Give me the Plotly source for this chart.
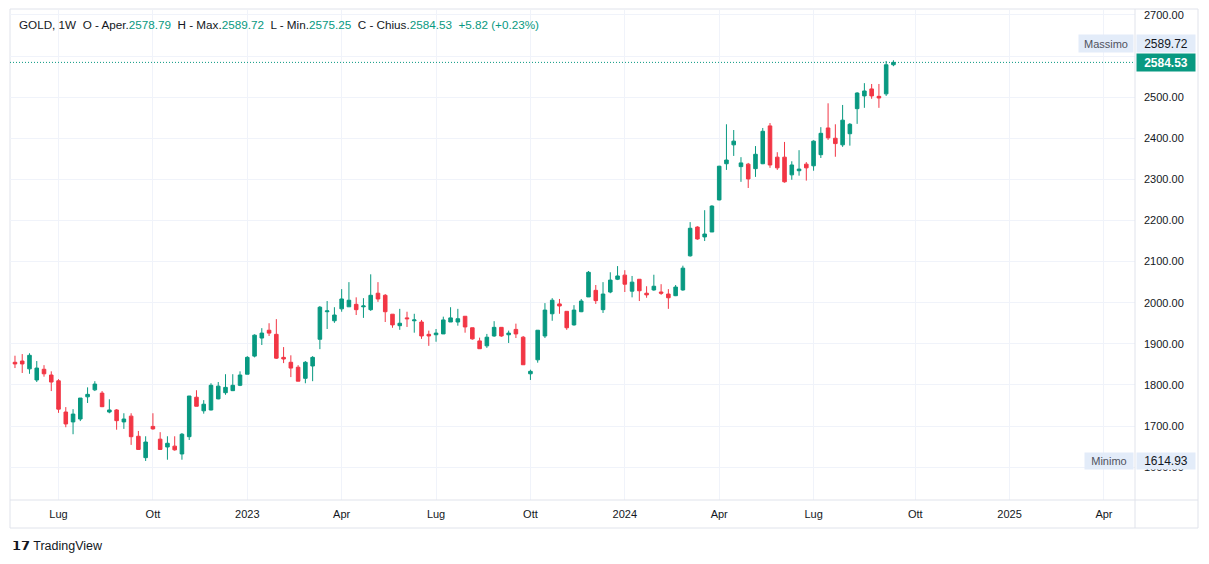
import pandas as pd
import plotly.graph_objects as go

# weekly bars, GOLD 1W (first bar is mostly cut off on the left)
weeks = pd.date_range("2022-05-16", periods=123, freq="W-MON")

opens = [1824, 1855, 1858, 1839, 1812, 1838, 1824, 1810, 1734, 1710, 1717, 1771, 1788, 1780, 1734, 1739,
         1710, 1724, 1675, 1623, 1699, 1668, 1649, 1651, 1632, 1674, 1770, 1737, 1739, 1766, 1781, 1786,
         1799, 1826, 1870, 1914, 1933, 1923, 1867, 1855, 1843, 1816, 1846, 1911, 1978, 1956, 1985, 1990,
         1996, 1990, 1983, 2023, 2018, 1972, 1944, 1963, 1956, 1953, 1923, 1922, 1924, 1953, 1953, 1967,
         1939, 1907, 1895, 1919, 1940, 1922, 1935, 1916, 1827, 1861, 1919, 1973, 1997, 1979, 1946, 1978,
         2014, 2030, 1983, 2026, 2057, 2067, 2028, 2057, 2023, 2031, 2026, 2021, 2017, 2031, 2114, 2184,
         2160, 2172, 2250, 2338, 2384, 2331, 2337, 2326, 2338, 2430, 2354, 2354, 2311, 2321, 2337, 2333,
         2360, 2425, 2400, 2384, 2411, 2472, 2503, 2520, 2502, 2508, 2578.79]
highs = [1850, 1871, 1875, 1877, 1858, 1848, 1833, 1814, 1746, 1741, 1768, 1794, 1809, 1785, 1765, 1741,
         1731, 1731, 1688, 1675, 1731, 1685, 1675, 1675, 1683, 1773, 1787, 1763, 1804, 1807, 1826, 1826,
         1833, 1870, 1923, 1938, 1950, 1960, 1892, 1872, 1848, 1858, 1870, 1992, 2004, 1989, 2033, 2050,
         2013, 2011, 2069, 2050, 2021, 1972, 1985, 1978, 1973, 1958, 1932, 1936, 1966, 1989, 1985, 1967,
         1939, 1915, 1924, 1955, 1940, 1932, 1949, 1919, 1837, 1933, 1999, 2011, 2009, 1979, 1994, 2009,
         2077, 2043, 2050, 2074, 2089, 2079, 2065, 2057, 2040, 2068, 2045, 2033, 2043, 2090, 2196, 2186,
         2225, 2237, 2333, 2434, 2420, 2354, 2340, 2381, 2425, 2437, 2366, 2391, 2344, 2371, 2342, 2395,
         2427, 2485, 2434, 2481, 2437, 2512, 2534, 2532, 2532, 2588, 2589.72]
lows = [1822, 1841, 1829, 1827, 1807, 1820, 1785, 1732, 1697, 1680, 1712, 1756, 1785, 1746, 1731, 1691,
        1693, 1654, 1642, 1614.93, 1691, 1642, 1618, 1640, 1618, 1666, 1748, 1730, 1738, 1765, 1776, 1785,
        1797, 1826, 1867, 1897, 1919, 1863, 1853, 1819, 1809, 1804, 1809, 1887, 1936, 1951, 1978, 1990,
        1970, 1963, 1980, 2002, 1953, 1939, 1934, 1941, 1927, 1912, 1895, 1905, 1924, 1953, 1944, 1927,
        1910, 1888, 1890, 1917, 1917, 1902, 1914, 1849, 1812, 1854, 1914, 1956, 1973, 1934, 1944, 1977,
        2014, 1997, 1975, 2023, 2055, 2026, 2013, 2004, 2012, 2029, 2019, 1985, 2016, 2029, 2112, 2153,
        2150, 2172, 2249, 2323, 2357, 2294, 2279, 2306, 2337, 2328, 2323, 2292, 2299, 2309, 2297, 2321,
        2352, 2396, 2355, 2379, 2382, 2435, 2474, 2496, 2474, 2503, 2575.25]
closes = [1848, 1851, 1851, 1872, 1841, 1827, 1807, 1741, 1705, 1729, 1768, 1777, 1802, 1747, 1739, 1713,
          1717, 1674, 1643, 1661, 1693, 1643, 1658, 1642, 1680, 1773, 1748, 1753, 1799, 1797, 1794, 1799,
          1824, 1867, 1921, 1926, 1926, 1865, 1863, 1841, 1809, 1855, 1867, 1989, 1980, 1970, 2009, 2006,
          1983, 1992, 2018, 2009, 1978, 1946, 1950, 1961, 1958, 1919, 1919, 1926, 1958, 1963, 1961, 1941,
          1912, 1888, 1916, 1940, 1919, 1926, 1924, 1849, 1833, 1933, 1982, 2006, 1992, 1939, 1982, 2004,
          2074, 2005, 2021, 2055, 2065, 2045, 2050, 2029, 2019, 2040, 2023, 2012, 2038, 2084, 2181, 2155,
          2167, 2235, 2332, 2347, 2393, 2340, 2301, 2361, 2417, 2335, 2328, 2294, 2335, 2325, 2328, 2393,
          2412, 2401, 2387, 2444, 2434, 2510, 2515, 2503, 2498, 2578.71, 2584.53]

tick_dates = ["2022-07-04", "2022-10-03", "2023-01-02", "2023-04-03", "2023-07-03", "2023-10-02",
              "2024-01-01", "2024-04-01", "2024-07-01", "2024-10-07", "2025-01-06", "2025-04-07"]
tick_labels = ["Lug", "Ott", "2023", "Apr", "Lug", "Ott", "2024", "Apr", "Lug", "Ott", "2025", "Apr"]
price_ticks = list(range(1600, 2701, 100))

UP = "#089981"
DOWN = "#f23645"
GRID = "#f0f3fa"
BORDER = "#e0e3eb"
TXT = "#131722"
FONT = "Liberation Sans"

last_close = closes[-1]
chg = closes[-1] - closes[-2]
hi = max(highs)
lo = min(lows)

fig = go.Figure(go.Candlestick(
    x=weeks, open=opens, high=highs, low=lows, close=closes,
    increasing=dict(line=dict(color=UP, width=1), fillcolor=UP),
    decreasing=dict(line=dict(color=DOWN, width=1), fillcolor=DOWN),
    whiskerwidth=0, hoverinfo="skip",
))

# plot area in page px: x 10..1135, y 10..500 (page body adds 8px offset)
def px(x):
    return (x - 10) / 1125

def py(y):
    return (500 - y) / 490

shapes = [
    dict(type="rect", xref="paper", yref="paper", x0=px(10), x1=px(1198), y0=py(528), y1=py(9),
         line=dict(color=BORDER, width=1), layer="below"),
    dict(type="line", xref="paper", yref="paper", x0=0, x1=px(1198), y0=0, y1=0,
         line=dict(color=BORDER, width=1)),
    dict(type="line", xref="paper", yref="paper", x0=1, x1=1, y0=py(528), y1=py(9),
         line=dict(color=BORDER, width=1)),
    dict(type="line", xref="paper", yref="y", x0=0, x1=1, y0=last_close, y1=last_close,
         line=dict(color=UP, width=1, dash="1px,2px")),
]

header = (f"<span style='color:{TXT}'>GOLD, 1W  O - Aper.</span><span style='color:{UP}'>{opens[-1]:.2f}</span>"
          f"<span style='color:{TXT}'>  H - Max.</span><span style='color:{UP}'>{highs[-1]:.2f}</span>"
          f"<span style='color:{TXT}'>  L - Min.</span><span style='color:{UP}'>{lows[-1]:.2f}</span>"
          f"<span style='color:{TXT}'>  C - Chius.</span><span style='color:{UP}'>{closes[-1]:.2f}</span>"
          f"<span style='color:{UP}'>  +{chg:.2f} (+{chg / closes[-2] * 100:.2f}%)</span>")

LBL_BG = "#e3ecf9"
annotations = [
    dict(text=header, xref="paper", yref="paper", x=px(17), y=py(24), xanchor="left", yanchor="middle",
         showarrow=False, font=dict(size=11.7, family=FONT, color=TXT)),
    dict(text="Massimo", xref="paper", yref="y", x=px(1134), y=hi, yshift=17, xanchor="right",
         yanchor="middle", showarrow=False, bgcolor=LBL_BG, borderpad=2, width=50, height=13,
         font=dict(size=11, family=FONT, color="#50535e")),
    dict(text=f"{hi:.2f}", xref="paper", yref="y", x=px(1136), y=hi, yshift=17, xanchor="left",
         yanchor="middle", showarrow=False, bgcolor=LBL_BG, borderpad=2, width=54, height=13,
         font=dict(size=12, family=FONT, color=TXT)),
    dict(text=f"<b>{last_close:.2f}</b>", xref="paper", yref="y", x=px(1136), y=last_close,
         xanchor="left", yanchor="middle", showarrow=False, bgcolor=UP, borderpad=2, width=54,
         height=13, font=dict(size=12, family=FONT, color="white")),
    dict(text="Minimo", xref="paper", yref="y", x=px(1134), y=lo, xanchor="right", yanchor="middle",
         showarrow=False, bgcolor=LBL_BG, borderpad=2, width=44, height=12,
         font=dict(size=11, family=FONT, color="#50535e")),
    dict(text=f"{lo:.2f}", xref="paper", yref="y", x=px(1136), y=lo, xanchor="left", yanchor="middle",
         showarrow=False, bgcolor=LBL_BG, borderpad=2, width=54, height=12,
         font=dict(size=12, family=FONT, color=TXT)),
    dict(text="<b>𝟭𝟳</b> TradingView", xref="paper", yref="paper", x=px(10), y=py(546),
         xanchor="left", yanchor="middle", showarrow=False,
         font=dict(size=12.5, family=FONT, color=TXT)),
]

# the 2600 label sits hidden behind the price labels in the original
price_text = ["" if v == 2600 else f"{v:.2f}" for v in price_ticks]

fig.update_layout(
    width=1201, height=556,
    margin=dict(l=2, r=74, t=2, b=64),
    paper_bgcolor="white", plot_bgcolor="white",
    showlegend=False,
    shapes=shapes, annotations=annotations,
    font=dict(family=FONT, size=11, color=TXT),
    xaxis=dict(
        type="date", range=["2022-05-18 05:00", "2025-05-06 22:00"],
        rangeslider=dict(visible=False),
        tickmode="array", tickvals=tick_dates, ticktext=tick_labels,
        showgrid=True, gridcolor=GRID, gridwidth=1, zeroline=False, showline=False,
        ticks="", ticklabelstandoff=6, tickfont=dict(size=11, color=TXT),
    ),
    yaxis=dict(
        side="right", range=[1520, 2712],
        tickmode="array", tickvals=price_ticks, ticktext=price_text,
        showgrid=True, gridcolor=GRID, gridwidth=1, zeroline=False, showline=False,
        ticks="", ticklabelstandoff=8, tickfont=dict(size=11, color=TXT),
    ),
)

fig.write_html("out.html")
